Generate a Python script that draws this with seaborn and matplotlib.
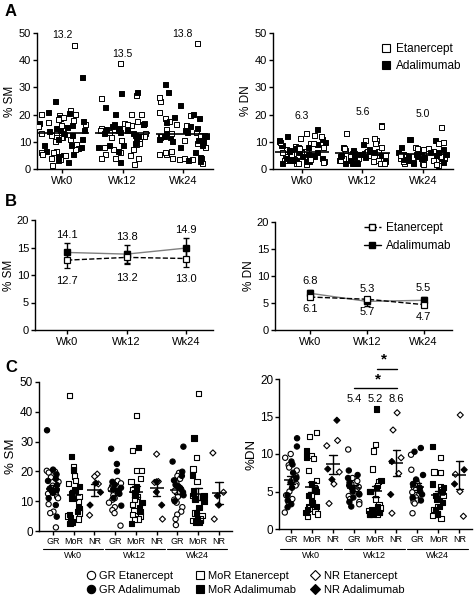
import warnings
import numpy as np
import pandas as pd
import matplotlib
matplotlib.use('Agg')
import matplotlib.pyplot as plt
import matplotlib.transforms as mtransforms
from matplotlib.lines import Line2D
import seaborn as sns

warnings.filterwarnings('ignore')
np.random.seed(7)

weeks = ['Wk0', 'Wk12', 'Wk24']
groups = ['GR', 'MoR', 'NR']
drugs = ['Etanercept', 'Adalimumab']

# % SM by week / response group / drug
sm_w0_gr_eta = [20.2, 19.9, 19.6, 18.0, 16.5, 15.2, 14.0, 13.0, 12.5, 11.5, 11.0, 9.0, 6.5, 6.0, 1.2]
sm_w0_gr_ada = [33.8, 20.6, 19.0, 17.5, 16.8, 15.4, 14.2, 13.8, 12.8, 11.0, 8.7, 4.8]
sm_w0_mor_eta = [45.5, 21.5, 18.5, 17.0, 16.0, 13.5, 11.5, 10.0, 7.5, 7.0, 6.0, 5.0, 4.0, 3.5]
sm_w0_mor_ada = [25.0, 20.5, 15.0, 14.0, 12.5, 11.0, 8.0, 6.5, 5.5, 4.5, 3.0, 2.5]
sm_w0_nr_eta = [19.1, 18.3, 15.8, 5.3]
sm_w0_nr_ada = [16.1, 13.0, 8.7]
sm_w12_gr_eta = [16.8, 16.0, 15.0, 14.5, 14.0, 13.5, 13.0, 12.0, 11.0, 10.5, 9.5, 8.0, 7.0, 6.0, 1.8]
sm_w12_gr_ada = [27.6, 22.5, 20.0, 16.5, 15.5, 14.5, 14.0, 13.5, 12.5, 11.0, 8.5]
sm_w12_mor_eta = [38.7, 27.0, 20.2, 20.2, 17.5, 16.5, 14.0, 12.0, 11.5, 10.5, 9.0, 7.0, 5.5, 5.0, 4.0, 3.8]
sm_w12_mor_ada = [28.0, 15.0, 14.0, 13.0, 12.0, 9.5, 8.0, 6.5, 2.5]
sm_w12_nr_eta = [25.8, 16.6, 16.3, 4.0]
sm_w12_nr_ada = [16.5, 13.1, 8.7]
sm_w24_gr_eta = [19.5, 18.5, 17.5, 16.0, 14.5, 13.5, 12.5, 11.5, 10.5, 9.5, 8.0, 6.5, 5.5, 4.0, 2.0]
sm_w24_gr_ada = [28.3, 23.3, 19.9, 18.5, 17.0, 15.5, 15.0, 14.0, 13.0, 12.0, 10.0]
sm_w24_mor_eta = [46.2, 24.7, 20.8, 16.5, 12.0, 6.0, 5.2, 4.0, 3.6, 3.5]
sm_w24_mor_ada = [31.2, 18.8, 13.5, 12.5, 12.0, 11.5, 11.0, 10.5, 10.0, 8.0, 6.0, 4.2, 3.0, 2.8]
sm_w24_nr_eta = [26.2, 13.0, 4.0]
sm_w24_nr_ada = [11.8, 8.7]

# % DN by week / response group / drug
dn_w0_gr_eta = [10.0, 9.5, 8.5, 8.2, 7.8, 7.0, 6.5, 6.0, 5.8, 5.0, 4.5, 4.0, 3.5, 2.2]
dn_w0_gr_ada = [12.1, 11.0, 9.0, 8.6, 7.5, 6.8, 6.2, 5.5, 4.5, 3.8, 3.3, 2.9]
dn_w0_mor_eta = [12.9, 12.3, 9.8, 9.4, 7.8, 6.5, 5.5, 5.0, 4.5, 3.5, 3.0, 2.8, 2.3, 2.0, 1.7]
dn_w0_mor_ada = [10.4, 9.6, 6.0, 5.2, 4.5, 3.8, 3.3, 3.0, 2.6, 2.2]
dn_w0_nr_eta = [11.8, 11.1, 7.6, 6.0, 3.4]
dn_w0_nr_ada = [14.5, 8.0, 6.6]
dn_w12_gr_eta = [10.6, 6.8, 6.4, 6.0, 5.6, 5.3, 5.0, 4.7, 4.4, 4.0, 3.6, 3.3]
dn_w12_gr_ada = [7.8, 7.2, 6.8, 6.2, 5.8, 5.5, 5.0, 4.6, 4.2, 3.6, 3.0]
dn_w12_mor_eta = [11.3, 10.4, 8.0, 6.3, 5.8, 5.0, 4.0, 3.2, 2.8, 2.5, 2.2, 2.0, 1.9]
dn_w12_mor_ada = [16.0, 6.5, 5.5, 5.0, 3.0, 2.6, 2.2, 2.0, 1.9]
dn_w12_nr_eta = [15.5, 13.2, 9.5, 7.4, 2.1]
dn_w12_nr_ada = [9.0, 4.6]
dn_w24_gr_eta = [9.9, 7.9, 6.4, 6.0, 5.5, 5.2, 4.9, 4.6, 4.2, 4.0, 3.8, 3.6, 3.4, 2.1]
dn_w24_gr_ada = [10.8, 10.3, 7.2, 6.6, 6.0, 5.5, 5.0, 4.6, 4.2, 3.8]
dn_w24_mor_eta = [9.5, 7.6, 7.5, 5.6, 5.2, 4.5, 3.0, 2.6, 2.3, 2.0, 1.8, 1.4]
dn_w24_mor_ada = [11.0, 6.0, 5.5, 5.0, 4.5, 4.0, 3.5, 3.0, 2.5, 2.0]
dn_w24_nr_eta = [15.2, 7.3, 5.0, 1.7]
dn_w24_nr_ada = [7.9, 6.0]

# panel A mean labels
a_sm_labels = ['13.2', '13.5', '13.8']
a_dn_labels = ['6.3', '5.6', '5.0']

# panel B means +- SEM
b_sm_eta = [12.7, 13.2, 13.0]
b_sm_eta_sem = [1.5, 1.2, 1.6]
b_sm_ada = [14.1, 13.8, 14.9]
b_sm_ada_sem = [1.8, 1.7, 1.8]
b_dn_eta = [6.1, 5.7, 4.7]
b_dn_eta_sem = [0.4, 0.5, 0.4]
b_dn_ada = [6.8, 5.3, 5.5]
b_dn_ada_sem = [0.7, 0.8, 0.6]

# panel C Wk12 mean labels
c_dn_wk12_labels = ['5.4', '5.2', '8.6']

# build long table
table = {
    'SM': {
        ('Wk0', 'GR'): (sm_w0_gr_eta, sm_w0_gr_ada),
        ('Wk0', 'MoR'): (sm_w0_mor_eta, sm_w0_mor_ada),
        ('Wk0', 'NR'): (sm_w0_nr_eta, sm_w0_nr_ada),
        ('Wk12', 'GR'): (sm_w12_gr_eta, sm_w12_gr_ada),
        ('Wk12', 'MoR'): (sm_w12_mor_eta, sm_w12_mor_ada),
        ('Wk12', 'NR'): (sm_w12_nr_eta, sm_w12_nr_ada),
        ('Wk24', 'GR'): (sm_w24_gr_eta, sm_w24_gr_ada),
        ('Wk24', 'MoR'): (sm_w24_mor_eta, sm_w24_mor_ada),
        ('Wk24', 'NR'): (sm_w24_nr_eta, sm_w24_nr_ada),
    },
    'DN': {
        ('Wk0', 'GR'): (dn_w0_gr_eta, dn_w0_gr_ada),
        ('Wk0', 'MoR'): (dn_w0_mor_eta, dn_w0_mor_ada),
        ('Wk0', 'NR'): (dn_w0_nr_eta, dn_w0_nr_ada),
        ('Wk12', 'GR'): (dn_w12_gr_eta, dn_w12_gr_ada),
        ('Wk12', 'MoR'): (dn_w12_mor_eta, dn_w12_mor_ada),
        ('Wk12', 'NR'): (dn_w12_nr_eta, dn_w12_nr_ada),
        ('Wk24', 'GR'): (dn_w24_gr_eta, dn_w24_gr_ada),
        ('Wk24', 'MoR'): (dn_w24_mor_eta, dn_w24_mor_ada),
        ('Wk24', 'NR'): (dn_w24_nr_eta, dn_w24_nr_ada),
    },
}
rows = []
for measure, d in table.items():
    for (wk, grp), pair in d.items():
        for drug, vals in zip(drugs, pair):
            for v in vals:
                rows.append((measure, wk, grp, drug, wk + ' ' + grp, v))
df = pd.DataFrame(rows, columns=['measure', 'week', 'group', 'drug', 'cat', 'value'])
cats = [w + ' ' + g for w in weeks for g in groups]

sns.set_theme(style='ticks', rc={
    'axes.linewidth': 1.0, 'axes.edgecolor': 'black',
    'xtick.major.width': 1.0, 'ytick.major.width': 1.0,
    'xtick.major.size': 3.0, 'ytick.major.size': 3.0,
    'xtick.color': 'black', 'ytick.color': 'black',
    'xtick.major.pad': 2, 'ytick.major.pad': 1.2,
    'text.color': 'black', 'axes.labelcolor': 'black',
})
plt.rcParams['font.family'] = ['Liberation Sans', 'DejaVu Sans']

pal = {'Etanercept': 'white', 'Adalimumab': 'black'}

fig = plt.figure(figsize=(4.74, 6.0), dpi=100)
W, H = 474, 600


def rect(x0, x1, ytop, ybot):
    return [x0 / W, 1 - ybot / H, (x1 - x0) / W, (ybot - ytop) / H]


axA1 = fig.add_axes(rect(37, 213, 33, 169))
axA2 = fig.add_axes(rect(273, 453, 33, 169))
axB1 = fig.add_axes(rect(35, 213, 220, 330))
axB2 = fig.add_axes(rect(275, 452, 222, 330))
axC1 = fig.add_axes(rect(39, 232, 382, 531))
axC2 = fig.add_axes(rect(279, 472, 379, 529))


# Panel A: all patients per week
def panel_a(ax, measure, labels, ylabel, off, xlim):
    d = df[df.measure == measure]
    sns.stripplot(data=d, x='week', y='value', hue='drug', order=weeks, hue_order=drugs,
                  palette=pal, marker='s', size=3.6, edgecolor='black', linewidth=0.7,
                  jitter=0.4, legend=False, ax=ax)
    means = d.groupby('week')['value'].mean().reindex(weeks)
    ax.hlines(means.values, np.arange(3) - 0.45, np.arange(3) + 0.45, color='black',
              lw=1.2, zorder=5)
    for i, wk in enumerate(weeks):
        top = d[d.week == wk].value.max()
        ax.text(i, top + off, labels[i], ha='center', va='center', fontsize=7.5)
    ax.set_ylim(0, 50)
    ax.set_yticks(range(0, 51, 10))
    ax.set_xlim(*xlim)
    ax.set_xlabel('')
    ax.set_ylabel(ylabel, fontsize=8.5, labelpad=2)
    ax.tick_params(labelsize=8)
    sns.despine(ax=ax)


panel_a(axA1, 'SM', a_sm_labels, '% SM', 3.6, (-0.42, 2.5))
panel_a(axA2, 'DN', a_dn_labels, '% DN', 5.0, (-0.48, 2.5))

axA2.legend(handles=[
    Line2D([], [], marker='s', ls='none', mfc='white', mec='black', mew=0.8, ms=5.5),
    Line2D([], [], marker='s', ls='none', mfc='black', mec='black', mew=0.8, ms=5.5)],
    labels=drugs, loc='center left', bbox_to_anchor=(0.60, 0.82), frameon=False,
    fontsize=8.5, handlelength=0.8, handletextpad=0.5, labelspacing=0.45,
    borderpad=0, borderaxespad=0)


# Panel B: mean +- SEM over time
def panel_b(ax, eta, eta_sem, ada, ada_sem, ylabel, up, down, xlim):
    x = np.arange(len(weeks))
    ax.errorbar(x, ada, yerr=ada_sem, color='0.5', lw=1.0, ecolor='black', elinewidth=1.0,
                capsize=2.5, capthick=1.0, marker='s', ms=4.5, mfc='black', mec='black', zorder=3)
    ax.errorbar(x, eta, yerr=eta_sem, color='black', lw=1.0, ls='--', ecolor='black',
                elinewidth=1.0, capsize=2.5, capthick=1.0, marker='s', ms=4.5, mfc='white',
                mec='black', mew=0.9, zorder=4)
    for i in x:
        ax.text(i, ada[i] + up, f'{ada[i]:.1f}', ha='center', va='center', fontsize=8)
        ax.text(i, eta[i] - down, f'{eta[i]:.1f}', ha='center', va='center', fontsize=8)
    ax.set_xticks(x, labels=weeks)
    ax.set_ylim(0, 20)
    ax.set_yticks(range(0, 21, 5))
    ax.set_xlim(*xlim)
    ax.set_ylabel(ylabel, fontsize=8.5, labelpad=1)
    ax.tick_params(labelsize=8)
    sns.despine(ax=ax)


panel_b(axB1, b_sm_eta, b_sm_eta_sem, b_sm_ada, b_sm_ada_sem, '% SM', 3.2, 3.7, (-0.54, 2.45))
panel_b(axB2, b_dn_eta, b_dn_eta_sem, b_dn_ada, b_dn_ada_sem, '% DN', 2.3, 2.3, (-0.62, 2.5))

axB2.legend(handles=[
    Line2D([], [], color='black', ls='--', lw=1.0, marker='s', mfc='white', mec='black', ms=4),
    Line2D([], [], color='black', ls='-', lw=1.0, marker='s', mfc='black', mec='black', ms=4)],
    labels=drugs, loc='center left', bbox_to_anchor=(0.5, 0.86), frameon=False,
    fontsize=8.5, handlelength=1.5, handletextpad=0.4, labelspacing=0.5,
    borderpad=0, borderaxespad=0)

# Panel C: split by response group
markers = {'GR': 'o', 'MoR': 's', 'NR': 'D'}
sizes = {'GR': 3.8, 'MoR': 3.8, 'NR': 3.1}


def panel_c(ax, measure, ylim, step, ylabel, xlim):
    d = df[df.measure == measure]
    for g in groups:
        sub = d[d.group == g]
        sns.stripplot(data=sub, x='cat', y='value', hue='drug', order=cats, hue_order=drugs,
                      palette=pal, marker=markers[g], size=sizes[g], edgecolor='black',
                      linewidth=0.8, jitter=0.3, legend=False, ax=ax)
    sns.pointplot(data=d, x='cat', y='value', order=cats, errorbar='se', capsize=0.35,
                  color='black', linestyle='none', marker='_', markersize=10,
                  markeredgewidth=1.1, err_kws={'linewidth': 1.0}, zorder=5, ax=ax)
    ax.set_ylim(0, ylim)
    ax.set_yticks(range(0, ylim + 1, step))
    ax.set_xlim(*xlim)
    ax.set_xticks(range(len(cats)), labels=groups * 3)
    ax.tick_params(axis='x', labelsize=6.5, pad=1)
    ax.tick_params(axis='y', labelsize=8.5)
    ax.set_xlabel('')
    ax.set_ylabel(ylabel, fontsize=9.5, labelpad=2)
    sns.despine(ax=ax)
    tr = mtransforms.blended_transform_factory(ax.transData, fig.transFigure)
    for i, wk in enumerate(weeks):
        ax.plot([3 * i - 0.5, 3 * i + 2.4], [1 - 549 / H] * 2, color='black', lw=0.8,
                transform=tr, clip_on=False)
        ax.text(3 * i + 0.95, 1 - 556 / H, wk, transform=tr, ha='center', va='center',
                fontsize=6.5)


panel_c(axC1, 'SM', 50, 10, '% SM', (-0.67, 8.63))
panel_c(axC2, 'DN', 20, 5, '%DN', (-0.57, 8.6))

# significance bars on Wk12 DN
axC2.plot([3, 5.05], [18.8, 18.8], color='black', lw=1.0, clip_on=False)
axC2.plot([4.1, 5.05], [21.3, 21.3], color='black', lw=1.0, clip_on=False)
axC2.text(4.15, 19.9, '*', ha='center', va='center', fontsize=11, weight='bold')
axC2.text(4.4, 22.6, '*', ha='center', va='center', fontsize=11, weight='bold')
for i, lab in enumerate(c_dn_wk12_labels):
    axC2.text(3 + i, 17.4, lab, ha='center', va='center', fontsize=8)

# panel letters
fig.text(5 / W, 1 - 11 / H, 'A', fontsize=12, weight='bold', va='center')
fig.text(5 / W, 1 - 201 / H, 'B', fontsize=12, weight='bold', va='center')
fig.text(5 / W, 1 - 367 / H, 'C', fontsize=12, weight='bold', va='center')

# bottom legend
leg_handles = []
leg_labels = []
for g in groups:
    for drug in drugs:
        leg_handles.append(Line2D([], [], marker=markers[g], ls='none', mfc=pal[drug],
                                  mec='black', mew=0.8, ms=6 if g != 'NR' else 5))
        leg_labels.append(f'{g} {drug}')
fig.legend(handles=leg_handles, labels=leg_labels, ncol=3, loc='upper left',
           bbox_to_anchor=(85 / W, 1 - 571 / H), frameon=False, fontsize=8,
           handlelength=1.0, handletextpad=0.3, columnspacing=1.2, labelspacing=0.35,
           borderpad=0, borderaxespad=0)

fig.savefig('out.png', dpi=100)
